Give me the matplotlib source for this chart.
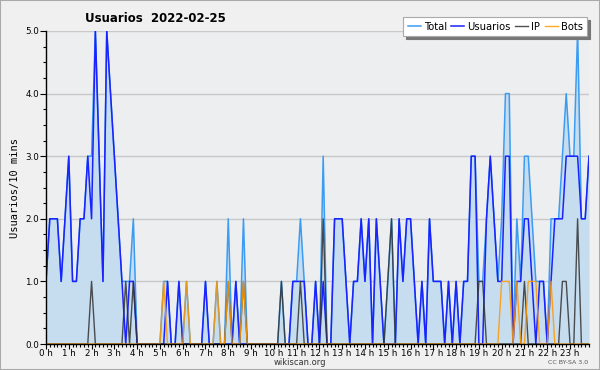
import matplotlib
matplotlib.use("Agg")
import matplotlib.pyplot as plt
from matplotlib.ticker import MultipleLocator, FixedLocator, FixedFormatter, FormatStrFormatter
import numpy as np

# values per 10-minute slot, one row per hour (6 slots)
usuarios = [
    1, 2, 2, 2, 1, 2,
    3, 1, 1, 2, 2, 3,
    2, 5, 3, 1, 5, 4,
    3, 2, 1, 0, 1, 1,
    0, 0, 0, 0, 0, 0,
    0, 0, 1, 0, 0, 1,
    0, 0, 0, 0, 0, 0,
    1, 0, 0, 0, 0, 0,
    0, 0, 1, 0, 0, 0,
    0, 0, 0, 0, 0, 0,
    0, 0, 0, 0, 0, 1,
    1, 1, 1, 0, 0, 1,
    0, 1, 0, 0, 2, 2,
    2, 1, 0, 1, 1, 2,
    1, 2, 0, 2, 1, 0,
    0, 0, 0, 2, 1, 2,
    2, 1, 0, 1, 0, 2,
    1, 1, 1, 0, 1, 0,
    1, 0, 1, 1, 3, 3,
    0, 0, 2, 3, 2, 1,
    1, 3, 3, 0, 1, 1,
    2, 2, 1, 0, 1, 1,
    0, 1, 2, 2, 2, 3,
    3, 3, 3, 2, 2, 3,
]
ip = [
    0, 0, 0, 0, 0, 0,
    0, 0, 0, 0, 0, 0,
    1, 0, 0, 0, 0, 0,
    0, 0, 0, 1, 0, 1,
    0, 0, 0, 0, 0, 0,
    0, 0, 0, 0, 0, 0,
    0, 0, 0, 0, 0, 0,
    0, 0, 0, 0, 0, 0,
    1, 0, 0, 0, 1, 0,
    0, 0, 0, 0, 0, 0,
    0, 0, 1, 0, 0, 0,
    0, 1, 0, 0, 0, 0,
    0, 2, 0, 0, 0, 0,
    0, 0, 0, 0, 0, 0,
    0, 0, 0, 0, 0, 0,
    1, 2, 0, 0, 0, 0,
    0, 0, 0, 0, 0, 0,
    0, 0, 0, 0, 0, 0,
    0, 0, 0, 0, 0, 0,
    1, 1, 0, 0, 0, 0,
    0, 0, 0, 0, 0, 0,
    1, 0, 0, 0, 0, 0,
    0, 0, 0, 0, 1, 1,
    0, 0, 2, 0, 0, 0,
]
bots = [
    0, 0, 0, 0, 0, 0,
    0, 0, 0, 0, 0, 0,
    0, 0, 0, 0, 0, 0,
    0, 0, 0, 0, 0, 0,
    0, 0, 0, 0, 0, 0,
    0, 1, 0, 0, 0, 0,
    0, 1, 0, 0, 0, 0,
    0, 0, 0, 1, 0, 0,
    1, 0, 0, 0, 1, 0,
    0, 0, 0, 0, 0, 0,
    0, 0, 0, 0, 0, 0,
    0, 0, 0, 0, 0, 0,
    0, 0, 0, 0, 0, 0,
    0, 0, 0, 0, 0, 0,
    0, 0, 0, 0, 0, 0,
    0, 0, 0, 0, 0, 0,
    0, 0, 0, 0, 0, 0,
    0, 0, 0, 0, 0, 0,
    0, 0, 0, 0, 0, 0,
    0, 0, 0, 0, 0, 0,
    1, 1, 1, 0, 1, 0,
    0, 1, 1, 1, 0, 0,
    0, 1, 0, 0, 0, 0,
    0, 0, 0, 0, 0, 0,
]
total = [
    1, 2, 2, 2, 1, 2,
    3, 1, 1, 2, 2, 3,
    3, 5, 3, 1, 5, 4,
    3, 2, 1, 1, 1, 2,
    0, 0, 0, 0, 0, 0,
    0, 1, 1, 0, 0, 1,
    0, 1, 0, 0, 0, 0,
    1, 0, 0, 1, 0, 0,
    2, 0, 1, 0, 2, 0,
    0, 0, 0, 0, 0, 0,
    0, 0, 1, 0, 0, 1,
    1, 2, 1, 0, 0, 1,
    0, 3, 0, 0, 2, 2,
    2, 1, 0, 1, 1, 2,
    1, 2, 0, 2, 1, 0,
    1, 2, 0, 2, 1, 2,
    2, 1, 0, 1, 0, 2,
    1, 1, 1, 0, 1, 0,
    1, 0, 1, 1, 3, 3,
    1, 1, 2, 3, 2, 1,
    2, 4, 4, 0, 2, 1,
    3, 3, 2, 1, 1, 1,
    0, 2, 2, 2, 3, 4,
    3, 3, 5, 2, 2, 3,
]
hour_labels = ["%d h" % h for h in range(24)]
title = "Usuarios  2022-02-25"
ylabel = "Usuarios/10 mins"
series_names = ["Total", "Usuarios", "IP", "Bots"]

x = np.arange(len(total))

fig = plt.figure(figsize=(6, 3.7), dpi=100, facecolor="#f0f0f0")
ax = fig.add_axes([46/600, 1-344/370, 543/600, 313/370])
ax.set_facecolor("#edeef0")

ax.fill_between(x, total, 0, color="#c6dcef", lw=0, zorder=1)
l1, = ax.plot(x, total, color="#3b9cf2", lw=1.1, zorder=3, label=series_names[0])
l2, = ax.plot(x, usuarios, color="#1a22ff", lw=1.1, zorder=4, label=series_names[1])
l3, = ax.plot(x, ip, color="#333333", lw=1.0, alpha=0.85, zorder=5, label=series_names[2])
l4, = ax.plot(x, bots, color="#ff9900", lw=1.0, alpha=0.85, zorder=6, label=series_names[3])

ax.set_xlim(0, len(total) - 1)
ax.set_ylim(0, 5)
ax.xaxis.set_major_locator(FixedLocator(np.arange(0, 144, 6)))
ax.xaxis.set_major_formatter(FixedFormatter(hour_labels))
ax.xaxis.set_minor_locator(MultipleLocator(1))
ax.yaxis.set_major_locator(MultipleLocator(1))
ax.yaxis.set_minor_locator(MultipleLocator(0.25))
ax.yaxis.set_major_formatter(FormatStrFormatter("%.1f"))
ax.tick_params(axis="x", which="major", labelsize=6.3, length=3.5, width=0.8, pad=0.3, colors="black")
ax.tick_params(axis="y", which="major", labelsize=6.3, length=4, width=0.8, pad=1, colors="black")
ax.tick_params(axis="both", which="minor", length=2.5, width=0.8)
ax.grid(axis="y", which="major", color="#c8c8c8", lw=1, zorder=0)
ax.set_axisbelow(True)
for s in ["top", "right"]:
    ax.spines[s].set_visible(False)
for s in ["left", "bottom"]:
    ax.spines[s].set_linewidth(1)
    ax.spines[s].set_zorder(10)

ax.set_ylabel(ylabel, fontsize=7.5, family="DejaVu Sans Mono", labelpad=4)
fig.text(85/600, 1-18/370, title, fontsize=8.5, fontweight="bold", ha="left", va="center")
fig.text(300/600, 1-362.5/370, "wikiscan.org", fontsize=6, ha="center", va="center", color="#333333")
fig.text(588/600, 1-362.5/370, "CC BY-SA 3.0", fontsize=4.5, ha="right", va="center", color="#555555")

leg = fig.legend(handles=[l1, l2, l3, l4], loc="upper right", bbox_to_anchor=(587/600, 1-17/370),
                 ncol=4, fontsize=7.2, frameon=True, fancybox=False, shadow={"color": "#777777", "alpha": 1},
                 handlelength=1.3, handletextpad=0.3, columnspacing=0.45, borderpad=0.45, borderaxespad=0)
leg.get_frame().set_facecolor("white")
leg.get_frame().set_edgecolor("#aaaaaa")
leg.get_frame().set_linewidth(0.8)

fig.patches.append(plt.Rectangle((0, 0), 1, 1, transform=fig.transFigure, fill=False,
                                 edgecolor="#aaaaaa", lw=1.5))
fig.savefig("out.png", dpi=100, facecolor=fig.get_facecolor())
